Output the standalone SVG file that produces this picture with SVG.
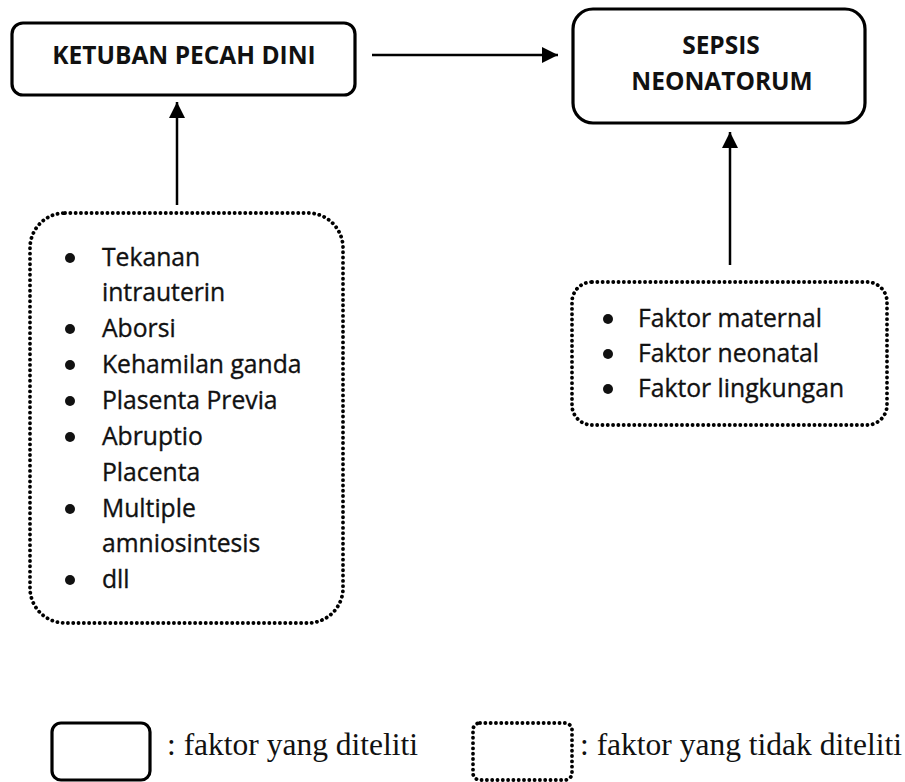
<svg xmlns="http://www.w3.org/2000/svg" width="905" height="782" viewBox="0 0 905 782">
<style>
.solid{fill:#fff;stroke:#000;stroke-width:3.2}
.dotted{fill:#fff;stroke:#000;stroke-width:3.8;stroke-dasharray:0.1 5.2;stroke-linecap:round}
.head{font-family:"Open Sans","Noto Sans",sans-serif;font-weight:bold;font-size:24.5px;fill:#111;text-anchor:middle}
.item{font-family:"Open Sans","Noto Sans",sans-serif;font-size:24.7px;fill:#111;stroke:#111;stroke-width:0.35}
.leg{font-family:"Liberation Serif","Times New Roman",serif;font-size:31.5px;fill:#111}
.conn{stroke:#000;stroke-width:2.5;fill:none}
</style>
<defs>
<marker id="arr" viewBox="0 0 10 10" refX="10" refY="5" markerWidth="16" markerHeight="16" markerUnits="userSpaceOnUse" orient="auto">
<path d="M0,0 L10,5 L0,10 z" fill="#000"/>
</marker>
</defs>
<rect width="905" height="782" fill="#fff"/>
<g id="connectors">
<line class="conn" x1="372" y1="55" x2="558" y2="55" marker-end="url(#arr)"/>
<line class="conn" x1="177" y1="205" x2="177" y2="102" marker-end="url(#arr)"/>
<line class="conn" x1="730" y1="265" x2="730" y2="132" marker-end="url(#arr)"/>
</g>
<g id="node-kpd">
<rect class="solid" x="12" y="23" width="343" height="72" rx="11"/>
<text class="head" x="184" y="64">KETUBAN PECAH DINI</text>
</g>
<g id="node-sepsis">
<rect class="solid" x="573" y="9" width="292" height="114" rx="20"/>
<text class="head" x="721" y="54">SEPSIS</text>
<text class="head" x="722" y="90">NEONATORUM</text>
</g>
<g id="node-kpd-factors">
<rect class="dotted" x="30" y="213" width="313" height="410" rx="35"/>
<g fill="#111">
<circle cx="70" cy="258" r="5"/>
<circle cx="70" cy="329" r="5"/>
<circle cx="70" cy="365" r="5"/>
<circle cx="70" cy="401" r="5"/>
<circle cx="70" cy="437" r="5"/>
<circle cx="70" cy="509" r="5"/>
<circle cx="70" cy="580" r="5"/>
</g>
<text class="item" x="102" y="266">Tekanan</text>
<text class="item" x="102" y="301">intrauterin</text>
<text class="item" x="102" y="337">Aborsi</text>
<text class="item" x="102" y="373">Kehamilan ganda</text>
<text class="item" x="102" y="409">Plasenta Previa</text>
<text class="item" x="102" y="445">Abruptio</text>
<text class="item" x="102" y="481">Placenta</text>
<text class="item" x="102" y="517">Multiple</text>
<text class="item" x="102" y="552">amniosintesis</text>
<text class="item" x="102" y="588">dll</text>
</g>
<g id="node-sepsis-factors">
<rect class="dotted" x="572" y="282" width="315" height="143" rx="20"/>
<g fill="#111">
<circle cx="608" cy="319" r="5"/>
<circle cx="608" cy="354" r="5"/>
<circle cx="608" cy="389" r="5"/>
</g>
<text class="item" x="638" y="327">Faktor maternal</text>
<text class="item" x="638" y="362">Faktor neonatal</text>
<text class="item" x="638" y="397">Faktor lingkungan</text>
</g>
<g id="legend">
<rect class="solid" x="52" y="723" width="98" height="57" rx="9"/>
<text class="leg" x="167" y="755">: faktor yang diteliti</text>
<rect class="dotted" x="473" y="723" width="99" height="57" rx="7"/>
<text class="leg" x="580" y="755">: faktor yang tidak diteliti</text>
</g>
</svg>
